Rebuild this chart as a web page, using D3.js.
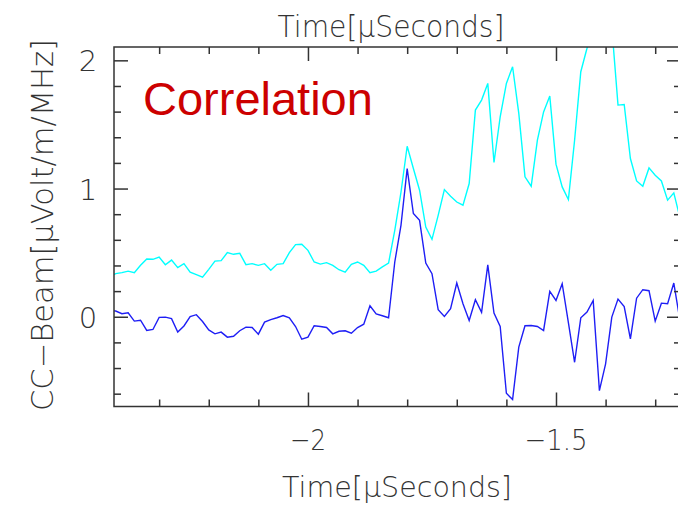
<!DOCTYPE html>
<html>
<head>
<meta charset="utf-8">
<script src="https://cdn.jsdelivr.net/npm/d3@7"></script>
<style>
  html, body { margin: 0; padding: 0; background: #fff; overflow: hidden; }
  svg { display: block; }
  .lbl { font-family: "DejaVu Sans", sans-serif; font-weight: 200; fill: #333; }
</style>
</head>
<body>
<div id="chart"></div>
<script>
// sample grid: first sample time and spacing (microseconds)
const t0 = -2.4;
const dt = 0.0125;

// beam-formed correlation
const ccBeam = [0.049, 0.045, 0.024, 0.031, -0.034, -0.027, -0.107, -0.099, -0.005, -0.003,
  -0.015, -0.119, -0.072, 0.002, 0.016, -0.037, -0.103, -0.133, -0.120, -0.159,
  -0.152, -0.109, -0.081, -0.084, -0.136, -0.042, -0.023, -0.008, 0.010, -0.008,
  -0.076, -0.175, -0.159, -0.070, -0.076, -0.084, -0.133, -0.113, -0.109, -0.128,
  -0.084, -0.058, 0.086, 0.023, 0.008, -0.008, 0.427, 0.713, 1.156, 0.805,
  0.752, 0.419, 0.336, 0.055, 0.002, 0.063, 0.263, 0.102, -0.029, 0.133,
  0.034, 0.405, 0.028, -0.076, -0.597, -0.646, -0.237, -0.070, -0.068, -0.076,
  -0.107, 0.198, 0.127, 0.258, -0.045, -0.355, -0.008, 0.036, 0.127, -0.576,
  -0.367, -0.003, 0.138, 0.080, -0.172, 0.145, 0.211, 0.203, -0.034, 0.106,
  0.102, 0.263, -0.03, 0.05];

// smoothed / power beam (cyan)
const ccPower = [0.315, 0.336, 0.344, 0.356, 0.344, 0.401, 0.450, 0.448, 0.466, 0.406,
  0.442, 0.383, 0.414, 0.348, 0.328, 0.309, 0.370, 0.434, 0.438, 0.500,
  0.487, 0.495, 0.406, 0.414, 0.401, 0.414, 0.362, 0.409, 0.414, 0.500,
  0.563, 0.565, 0.518, 0.427, 0.411, 0.422, 0.401, 0.367, 0.348, 0.409,
  0.427, 0.401, 0.344, 0.356, 0.389, 0.419, 0.674, 0.971, 1.330, 1.156,
  0.987, 0.700, 0.604, 0.791, 0.992, 0.940, 0.895, 0.870, 1.039, 1.612,
  1.690, 1.820, 1.203, 1.559, 1.820, 1.950, 1.586, 1.091, 1.018, 1.377,
  1.598, 1.721, 1.190, 1.013, 0.914, 1.377, 1.911, 2.094, 2.30, 2.45,
  2.38, 2.26, 1.651, 1.656, 1.234, 1.059, 1.018, 1.161, 1.104, 1.059,
  0.909, 0.966, 0.77, 0.60];

const xMajor = [-2, -1.5];
const xMajorLabels = ["\u22122", "\u22121.5"];
const xMinor = [-2.3, -2.2, -2.1, -1.9, -1.8, -1.7, -1.6, -1.4, -1.3];
const yMajor = [0, 1, 2];
const yMajorLabels = ["0", "1", "2"];
const yMinor = [-0.6, -0.4, -0.2, 0.2, 0.4, 0.6, 0.8, 1.2, 1.4, 1.6, 1.8];

const W = 678, H = 505;
const plotL = 114, plotR = 681, plotT = 47, plotB = 406.5;

const svg = d3.select("#chart").append("svg")
    .attr("width", W)
    .attr("height", H);

const x = d3.scaleLinear().domain([-2.391, -1.248]).range([plotL, plotR]);
const y = d3.scaleLinear().domain([-0.70, 2.104]).range([plotB, plotT]);

svg.append("clipPath").attr("id", "plotClip")
  .append("rect")
    .attr("x", plotL).attr("y", plotT)
    .attr("width", plotR - plotL).attr("height", plotB - plotT);

const line = d3.line()
    .x((d, i) => x(t0 + i * dt))
    .y(d => y(d));

const plot = svg.append("g").attr("clip-path", "url(#plotClip)");
plot.append("path")
    .attr("d", line(ccPower))
    .attr("fill", "none")
    .attr("stroke", "#00ffff")
    .attr("stroke-width", 1.4);
plot.append("path")
    .attr("d", line(ccBeam))
    .attr("fill", "none")
    .attr("stroke", "#1e1ef5")
    .attr("stroke-width", 1.4);

// axes with inward ticks on all four sides
function styleAxis(g) {
  g.select(".domain").remove();
  g.selectAll("line").attr("stroke", "#333").attr("stroke-width", 1.5);
  g.selectAll("text").remove();
}
svg.append("g").attr("transform", `translate(0,${plotB})`)
    .call(d3.axisBottom(x).tickValues(xMinor).tickSize(-7)).call(styleAxis);
svg.append("g").attr("transform", `translate(0,${plotB})`)
    .call(d3.axisBottom(x).tickValues(xMajor).tickSize(-14)).call(styleAxis);
svg.append("g").attr("transform", `translate(0,${plotT})`)
    .call(d3.axisTop(x).tickValues(xMinor).tickSize(-7)).call(styleAxis);
svg.append("g").attr("transform", `translate(0,${plotT})`)
    .call(d3.axisTop(x).tickValues(xMajor).tickSize(-14)).call(styleAxis);
svg.append("g").attr("transform", `translate(${plotL},0)`)
    .call(d3.axisLeft(y).tickValues(yMinor).tickSize(-7)).call(styleAxis);
svg.append("g").attr("transform", `translate(${plotL},0)`)
    .call(d3.axisLeft(y).tickValues(yMajor).tickSize(-14)).call(styleAxis);
svg.append("g").attr("transform", `translate(${plotR},0)`)
    .call(d3.axisRight(y).tickValues(yMinor).tickSize(-7)).call(styleAxis);
svg.append("g").attr("transform", `translate(${plotR},0)`)
    .call(d3.axisRight(y).tickValues(yMajor).tickSize(-14)).call(styleAxis);

svg.append("rect")
    .attr("x", plotL).attr("y", plotT)
    .attr("width", plotR - plotL).attr("height", plotB - plotT)
    .attr("fill", "none")
    .attr("stroke", "#333")
    .attr("stroke-width", 1.5);

// tick labels
svg.selectAll(".xlab").data(xMajor).enter().append("text")
    .attr("class", "lbl")
    .attr("x", d => x(d))
    .attr("y", 450)
    .attr("text-anchor", "middle")
    .attr("font-size", 29)
    .attr("textLength", (d, i) => i === 0 ? 36 : 63)
    .attr("lengthAdjust", "spacingAndGlyphs")
    .text((d, i) => xMajorLabels[i]);

svg.selectAll(".ylab").data(yMajor).enter().append("text")
    .attr("class", "lbl")
    .attr("x", 88)
    .attr("y", d => y(d) + 11)
    .attr("text-anchor", "middle")
    .attr("font-size", 29)
    .text((d, i) => yMajorLabels[i]);

// axis titles
svg.append("text")
    .attr("class", "lbl")
    .attr("x", 391).attr("y", 37)
    .attr("text-anchor", "middle")
    .attr("font-size", 30)
    .attr("textLength", 227)
    .attr("lengthAdjust", "spacingAndGlyphs")
    .text("Time[\u03bcSeconds]");

svg.append("text")
    .attr("class", "lbl")
    .attr("x", 397).attr("y", 497)
    .attr("text-anchor", "middle")
    .attr("font-size", 29)
    .attr("textLength", 230)
    .attr("lengthAdjust", "spacingAndGlyphs")
    .text("Time[\u03bcSeconds]");

svg.append("text")
    .attr("class", "lbl")
    .attr("transform", "translate(53,225) rotate(-90)")
    .attr("text-anchor", "middle")
    .attr("font-size", 30)
    .attr("textLength", 372)
    .attr("lengthAdjust", "spacingAndGlyphs")
    .text("CC\u2212Beam[\u03bcVolt/m/MHz]");

svg.append("text")
    .attr("x", 143).attr("y", 115)
    .attr("font-family", "Liberation Sans, Arial, sans-serif")
    .attr("font-size", 47)
    .attr("fill", "#cc0000")
    .text("Correlation");
</script>
</body>
</html>
